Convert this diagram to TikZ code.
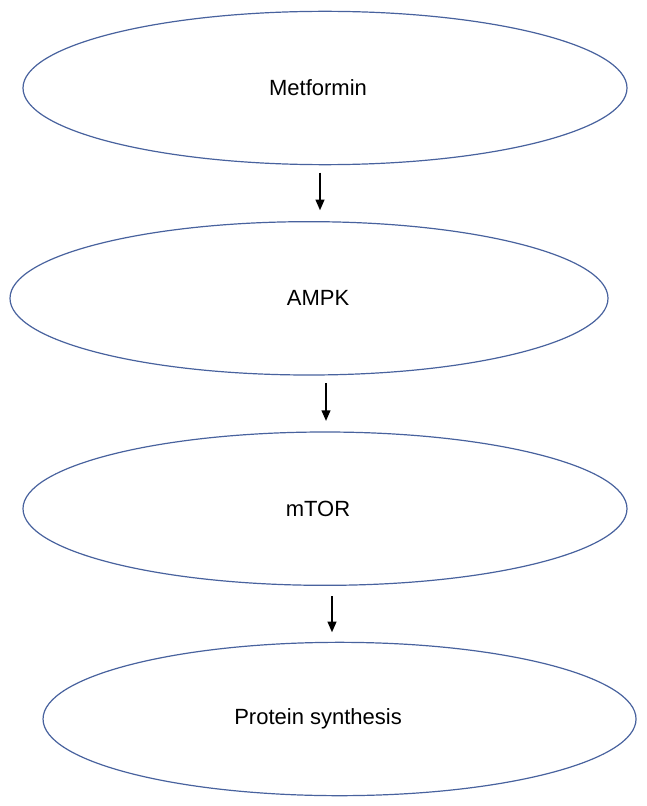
\documentclass[tikz,border=0pt]{standalone}
\usepackage{fontspec}
\setmainfont{Liberation Sans}
\usepackage{tikz}
\usetikzlibrary{arrows.meta,positioning,shapes.geometric}
\usepackage{xcolor}
\definecolor{ovalblue}{RGB}{72,98,158}
\tikzset{
  oval/.style={ellipse, draw=ovalblue, line width=0.9pt, fill=white, inner sep=0pt, outer sep=0pt,
               minimum width=453pt, minimum height=115pt},
  ovalwide/.style={oval, minimum width=448.5pt},
  ovallow/.style={oval, minimum width=444.75pt},
  tag/.style={font=\fontsize{16.5}{20}\selectfont},
  arrow/.style={-{Triangle[length=8pt, width=6.5pt]}, line width=1.5pt, black},
}
\begin{document}
\begin{tikzpicture}[node distance=42.75pt]
\useasboundingbox (0,0) rectangle (484.5pt,-604.5pt);
\node[oval, label={[tag, xshift=-5.25pt]center:Metformin}] (met) at (243.75pt,-66pt) {};
\node[ovalwide, below=of met, xshift=-12pt, label={[tag, xshift=6.75pt]center:AMPK}] (ampk) {};
\node[oval, below=of ampk, xshift=12pt, label={[tag, xshift=-5.25pt]center:mTOR}] (mtor) {};
\node[ovallow, below=of mtor, xshift=10.9pt, label={[tag, xshift=-16.1pt]center:Protein synthesis}] (prot) {};
\foreach \a/\b/\x/\s/\e in {met/ampk/240pt/6pt/8.5pt, ampk/mtor/244.5pt/6pt/8.25pt, mtor/prot/249pt/8.25pt/7.5pt}
  \draw[arrow, shorten <=\s, shorten >=\e] (\a.south -| \x,0) -- (\b.north -| \x,0);
\end{tikzpicture}
\end{document}
